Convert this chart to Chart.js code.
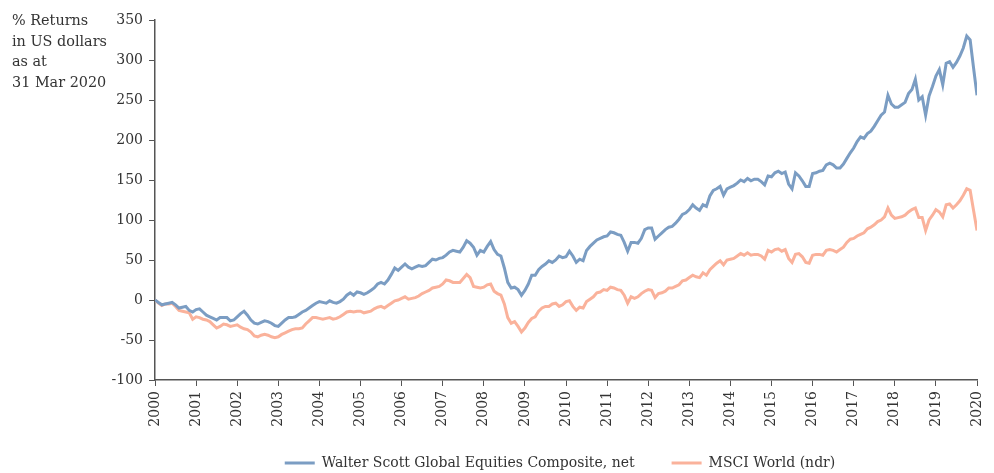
<!DOCTYPE html>
<html>
<head>
<meta charset="utf-8">
<script src="https://cdn.jsdelivr.net/npm/chart.js@4.4.1/dist/chart.umd.min.js"></script>
<style>
  html, body { margin: 0; padding: 0; background: #fff; }
  #wrap { position: relative; width: 994px; height: 473px; }
  #note {
    position: absolute; left: 12px; top: 10px;
    font-family: "DejaVu Serif", serif; font-size: 14.4px; line-height: 20.6px;
    color: #333;
  }
</style>
</head>
<body>
<div id="wrap">
  <canvas id="returns-chart" width="994" height="473"></canvas>
  <div id="note">% Returns<br>in US dollars<br>as at<br>31 Mar 2020</div>
</div>
<script>
// year labels on the x axis, one every 12 months
const yearLabels = ['2000','2001','2002','2003','2004','2005','2006','2007','2008','2009','2010',
  '2011','2012','2013','2014','2015','2016','2017','2018','2019','2020'];
const seriesNames = ['Walter Scott Global Equities Composite, net', 'MSCI World (ndr)'];

// monthly cumulative % returns
const walterScott = [
  0,-3,-6,-5,-4,-3,-6,-10,-9,-8,-13,-15,
  -12,-11,-15,-19,-21,-23,-25,-22,-22,-22,-26,-25,
  -21,-17,-14,-19,-25,-29,-30,-28,-26,-27,-29,-32,
  -33,-29,-25,-22,-22,-21,-18,-15,-13,-10,-7,-4,
  -2,-3,-4,-1,-3,-4,-2,1,6,9,6,10,
  9,7,9,12,15,20,22,20,25,32,40,37,
  41,45,41,39,41,43,42,43,47,51,50,52,
  53,56,60,62,61,60,66,74,71,66,56,62,
  60,67,73,63,57,55,40,22,15,16,13,6,
  12,20,31,31,38,42,45,49,47,50,55,53,
  54,61,55,47,51,49,62,67,71,75,77,79,
  80,85,84,82,81,72,61,72,72,71,77,88,
  90,90,76,80,84,88,91,92,96,101,107,109,
  113,119,115,112,119,117,130,137,139,142,131,139,
  141,143,146,150,148,152,149,151,151,148,144,155,
  154,159,161,158,160,145,139,159,155,149,142,142,
  158,159,161,162,169,171,169,165,165,170,177,184,
  190,198,204,202,208,211,217,224,231,235,256,245,
  241,241,244,247,258,263,276,250,254,231,255,267,
  280,288,269,296,298,291,297,305,315,330,325,290,
  256
];
const msciWorld = [
  0,-4,-7,-5,-5,-4,-8,-13,-14,-15,-16,-24,
  -21,-22,-24,-25,-27,-31,-35,-33,-30,-31,-33,-32,
  -31,-34,-36,-37,-40,-45,-46,-44,-43,-44,-46,-47,
  -46,-43,-41,-39,-37,-36,-36,-35,-30,-26,-22,-22,
  -23,-24,-23,-22,-24,-23,-21,-18,-15,-14,-15,-14,
  -14,-16,-15,-14,-11,-9,-8,-10,-7,-4,-1,0,
  2,4,1,2,3,5,8,10,12,15,16,17,
  20,25,24,22,22,22,27,32,28,17,16,15,
  16,19,20,11,8,6,-5,-22,-29,-27,-33,-40,
  -35,-28,-23,-21,-14,-10,-8,-8,-5,-4,-8,-6,
  -2,-1,-8,-13,-9,-10,-2,1,4,9,10,13,
  12,16,15,13,12,6,-4,4,2,4,8,11,
  13,12,3,8,9,11,15,15,17,19,24,25,
  28,31,29,28,34,31,38,42,46,49,44,50,
  51,52,55,58,56,59,56,57,57,55,51,62,
  60,63,64,61,63,52,47,57,58,54,47,46,
  56,57,57,56,62,63,62,60,63,66,72,76,
  77,80,82,84,89,91,94,98,100,104,115,106,
  102,103,104,106,110,113,115,103,103,87,100,106,
  113,110,104,119,120,115,119,124,131,139,137,112,
  87
];

const blue = '#7b9dc3';
const salmon = '#fab29b';
const ink = '#333333';

Chart.defaults.font.family = '"DejaVu Serif", serif';
Chart.defaults.font.size = 14;
Chart.defaults.color = ink;

const toPoints = (arr) => arr.map((v, i) => ({ x: i, y: v }));

// legend: wide gap between items, but a short box at the very bottom
const legendPlace = {
  id: 'legendPlace',
  beforeLayout(chart) {
    const lg = chart.legend;
    if (lg && !lg._patched) {
      const fit = lg.fit;
      lg.fit = function () { fit.call(this); this.height = 21; };
      lg._patched = true;
    }
  },
  afterLayout(chart) {
    const lg = chart.legend;
    lg.top = 419;
    lg.left -= 6;
    lg.right -= 6;
  }
};

new Chart(document.getElementById('returns-chart').getContext('2d'), {
  type: 'line',
  data: {
    datasets: [
      {
        label: seriesNames[0],
        data: toPoints(walterScott),
        borderColor: blue,
        backgroundColor: blue,
        borderWidth: 3,
        pointRadius: 0,
        tension: 0
      },
      {
        label: seriesNames[1],
        data: toPoints(msciWorld),
        borderColor: salmon,
        backgroundColor: salmon,
        borderWidth: 3,
        pointRadius: 0,
        tension: 0
      }
    ]
  },
  options: {
    responsive: false,
    animation: false,
    layout: { padding: { left: 0, right: 17, top: 20, bottom: 0 } },
    plugins: {
      legend: {
        position: 'bottom',
        fullSize: false,
        labels: {
          usePointStyle: true,
          pointStyle: 'line',
          pointStyleWidth: 30,
          padding: 37,
          color: ink
        }
      },
      tooltip: { enabled: false }
    },
    scales: {
      x: {
        type: 'linear',
        min: 0,
        max: 240,
        afterFit: (s) => { s.height = 72; s.paddingLeft = 0; s.paddingRight = 0; },
        border: { display: true, color: '#555', width: 1.5 },
        grid: { display: true, drawOnChartArea: false, drawTicks: true, tickLength: 6, color: '#555' },
        ticks: {
          stepSize: 12,
          autoSkip: false,
          maxRotation: 90,
          minRotation: 90,
          padding: 5,
          color: ink,
          callback: (v) => yearLabels[v / 12]
        }
      },
      y: {
        min: -100,
        max: 350,
        afterFit: (s) => { s.width = 155; },
        border: { display: true, color: '#555', width: 1.5 },
        grid: { display: true, drawOnChartArea: false, drawTicks: true, tickLength: 6, color: '#555' },
        ticks: { stepSize: 50, padding: 6, color: ink }
      }
    }
  },
  plugins: [legendPlace]
});
</script>
</body>
</html>
